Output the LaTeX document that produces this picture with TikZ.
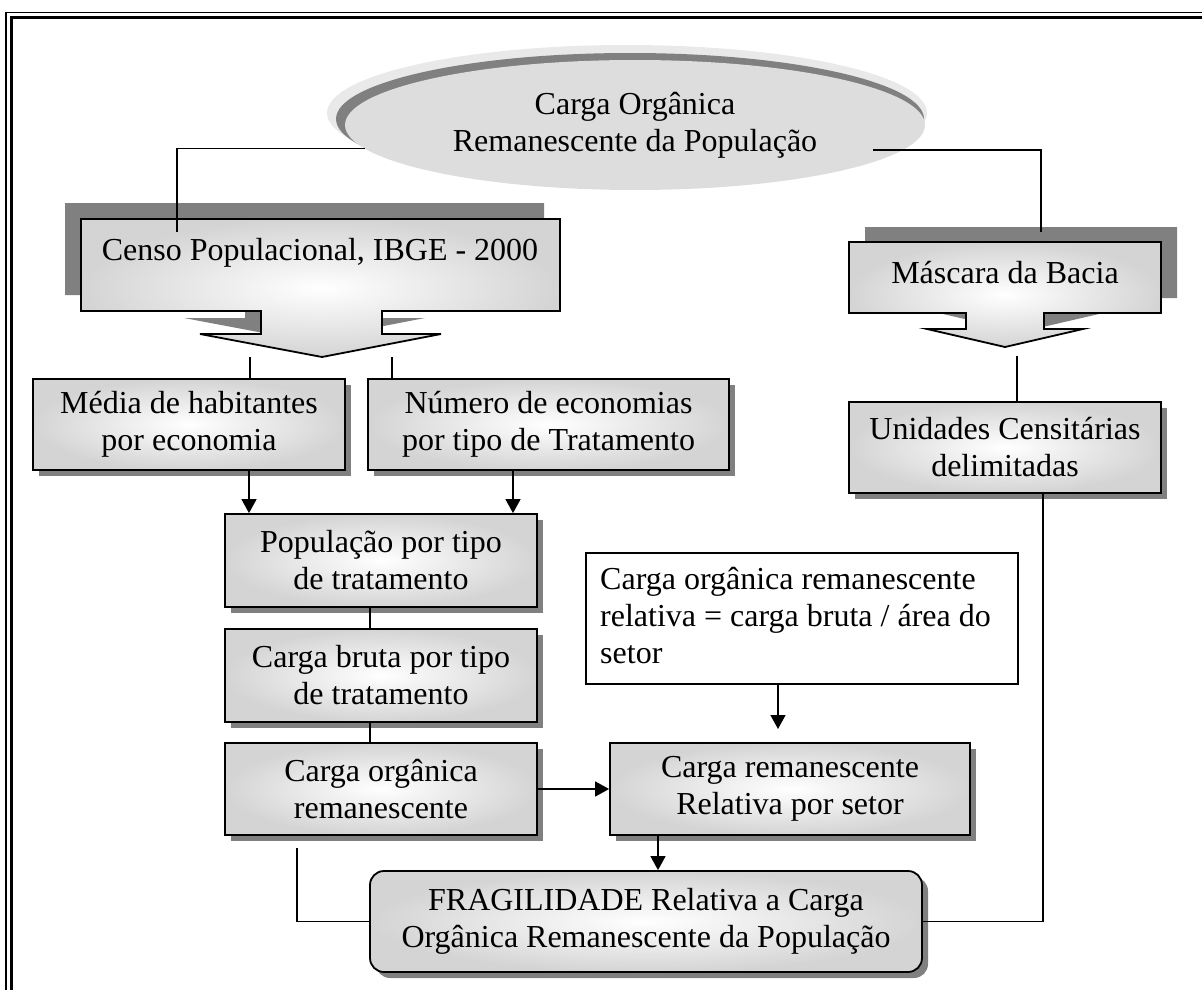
\documentclass[tikz,border=0pt]{standalone}
\usepackage{fontspec}
\setmainfont{Liberation Serif}
\usetikzlibrary{arrows.meta,shapes.geometric,shadows}
\definecolor{shadowgray}{RGB}{128,128,128}
\definecolor{boxgray}{RGB}{212,212,212}
\definecolor{ellgray}{RGB}{221,221,221}
\definecolor{elllight}{RGB}{233,233,233}
\begin{document}
\begin{tikzpicture}[x=1pt,y=-1pt,
  txt/.style={font=\fontsize{32}{37}\selectfont, align=center, inner sep=0pt},
  box/.style={txt, draw=black, line width=1.8pt, inner color=white, outer color=boxgray,
    drop shadow={shadow xshift=6pt, shadow yshift=-6pt, fill=shadowgray, opacity=1}},
  link/.style={draw=black, line width=1.4pt},
  arr/.style={link, -{Triangle[length=14pt,width=15pt]}}
]
\useasboundingbox (0,0) rectangle (1202,990);
\clip (0,0) rectangle (1202,990);

% double frame
\draw[line width=1.5pt] (5.8,1000) -- (5.8,12.3) -- (1210,12.3);
\draw[line width=2.6pt] (11.6,1000) -- (11.6,17.3) -- (1210,17.3);

% title ellipse with its raised rim
\fill[elllight] (627,113) ellipse [x radius=300pt, y radius=68pt];
\fill[shadowgray] (630,119) ellipse [x radius=294pt, y radius=66pt];
\node[txt, ellipse, fill=ellgray, minimum width=580pt, minimum height=130pt] (ell) at (635,125)
  {Carga Orgânica\\Remanescente da População};

% callout shapes with arrow
\def\censopath{(81,219) -- (560,219) -- (560,311) -- (382,311) -- (382,334) -- (441,334)
  -- (322,357) -- (200,334) -- (261,334) -- (261,311) -- (81,311) -- cycle}
\def\mascarapath{(849,242) -- (1161,242) -- (1161,313) -- (1044,313) -- (1044,329) -- (1083,329)
  -- (1005,347) -- (927,329) -- (966,329) -- (966,313) -- (849,313) -- cycle}
\fill[shadowgray, shift={(-16,-16)}] \censopath;
\shadedraw[inner color=white, outer color=boxgray, line width=1.8pt] \censopath;
\node[txt] (censo) at (320,253) {Censo Populacional, IBGE - 2000};
\fill[shadowgray, shift={(16,-15)}] \mascarapath;
\shadedraw[inner color=white, outer color=boxgray, line width=1.8pt] \mascarapath;
\node[txt] (mascara) at (1005,273) {Máscara da Bacia};

% process boxes
\node[box, minimum width=312pt, minimum height=91pt] (media) at (189,424.5) {Média de habitantes\\por economia};
\node[box, minimum width=361pt, minimum height=91pt] (numero) at (548.5,424.5) {Número de economias\\por tipo de Tratamento};
\node[box, minimum width=312pt, minimum height=91pt] (unid) at (1005,447.5) {Unidades Censitárias\\delimitadas};
\node[box, minimum width=312pt, minimum height=93pt] (pop) at (381,560.5) {População por tipo\\de tratamento};
\node[box, minimum width=312pt, minimum height=93pt] (bruta) at (381,675.5) {Carga bruta por tipo\\de tratamento};
\node[box, minimum width=312pt, minimum height=92pt] (organica) at (381,789) {Carga orgânica\\remanescente};
\node[box, minimum width=360pt, minimum height=92pt] (relsetor) at (790,789) {Carga remanescente\\Relativa por setor};
\node[box, rounded corners=14pt, minimum width=552pt, minimum height=101pt] (frag) at (646,921.5)
  {FRAGILIDADE Relativa a Carga\\Orgânica Remanescente da População};

% plain note box with left-aligned text
\node[draw=black, line width=1.5pt, fill=white, minimum width=432pt, minimum height=131pt,
  inner sep=0pt] (relbox) at (802,618.5) {};
\node[txt, align=left, anchor=west] (reltext) at (600,616)
  {Carga orgânica remanescente\\relativa = carga bruta / área do\\setor};

% connectors
\coordinate (c1) at (177,232);
\draw[link] (c1) |- (ell.185);
\coordinate (c2) at (873,150);
\coordinate (c3) at (1041,232);
\draw[link] (c2) -| (c3);
\coordinate (c4) at (250,357);
\draw[link] (c4) -- (c4 |- media.north);
\coordinate (c5) at (392,357);
\draw[link] (c5) -- (c5 |- numero.north);
\coordinate (c8) at (1017,356);
\draw[link] (c8) -- (c8 |- unid.north);

\coordinate (x1) at (249,0);
\draw[arr] (x1 |- media.south) -- (x1 |- pop.north);
\coordinate (x2) at (513,0);
\draw[arr] (x2 |- numero.south) -- (x2 |- pop.north);
\coordinate (x3) at (370,0);
\draw[link] (x3 |- pop.south) -- (x3 |- bruta.north);
\draw[link] (x3 |- bruta.south) -- (x3 |- organica.north);
\draw[arr] (organica.east) -- (relsetor.west);
\coordinate (t1) at (778,729);
\draw[arr] (relbox.south -| t1) -- (t1);
\coordinate (x4) at (658,0);
\draw[arr] (x4 |- relsetor.south) -- (x4 |- frag.north);

\coordinate (c6) at (297,848);
\draw[link] (c6) |- (frag.west);
\coordinate (c7) at (1043,0);
\draw[link] (frag.east) -| (c7 |- unid.south);
\end{tikzpicture}
\end{document}
